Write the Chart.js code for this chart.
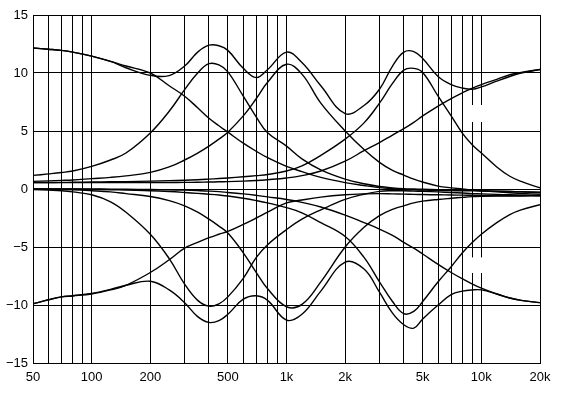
<!DOCTYPE html>
<html>
<head>
<meta charset="utf-8">
<script src="https://cdn.jsdelivr.net/npm/chart.js@4.4.1/dist/chart.umd.min.js"></script>
<style>
  html, body { margin: 0; padding: 0; background: #fff; }
  canvas { display: block; }
</style>
</head>
<body>
<canvas id="c" width="564" height="395"></canvas>
<script>
const FREQ = [50, 60, 70, 80, 100, 125, 150, 200, 250, 300, 350, 400, 450, 500, 600, 700, 800,
  1000, 1200, 1500, 2000, 2500, 3000, 3500, 4000, 4500, 5000, 6000, 7000, 8000, 9000, 10000,
  12000, 14000, 16000, 20000];

// Boost family (dB)
const BOOST_LOW_SHELF = [12.15, 12.05, 11.95, 11.8, 11.45, 11.0, 10.6, 10.0, 8.9, 8.0, 7.0, 6.1, 5.45, 4.9, 3.95, 3.25, 2.7,
  1.95, 1.5, 1.0, 0.55, 0.3, 0.12, 0.02, -0.04, -0.07, -0.09, -0.12, -0.14, -0.15, -0.16, -0.17, -0.2, -0.22, -0.24, -0.28];
const BOOST_BELL_400 = [1.17, 1.3, 1.42, 1.55, 1.95, 2.5, 3.1, 4.83, 6.7, 8.56, 10.0, 10.8, 10.7, 10.1, 8.0, 6.2, 4.85,
  3.7, 2.6, 1.65, 0.85, 0.45, 0.22, 0.1, 0.03, 0.0, -0.02, -0.05, -0.08, -0.1, -0.12, -0.14, -0.18, -0.22, -0.25, -0.3];
const BOOST_BELL_1K = [0.66, 0.7, 0.74, 0.78, 0.89, 1.0, 1.13, 1.43, 1.9, 2.5, 3.1, 3.7, 4.3, 4.9, 6.3, 7.8, 9.2,
  10.75, 9.9, 7.4, 5.0, 3.4, 2.3, 1.6, 1.2, 0.85, 0.6, 0.25, 0.1, 0.0, -0.1, -0.15, -0.25, -0.32, -0.38, -0.45];
const BOOST_BELL_4K = [0.55, 0.56, 0.57, 0.58, 0.6, 0.62, 0.64, 0.68, 0.72, 0.76, 0.8, 0.85, 0.9, 0.95, 1.05, 1.15, 1.25,
  1.55, 2.0, 2.9, 4.3, 5.7, 7.4, 9.1, 10.25, 10.4, 10.05, 8.0, 6.3, 4.8, 3.8, 3.1, 1.9, 1.1, 0.65, 0.1];
const BOOST_HIGH_SHELF = [0.55, 0.55, 0.55, 0.55, 0.55, 0.55, 0.55, 0.56, 0.56, 0.57, 0.58, 0.6, 0.62, 0.64, 0.68, 0.73, 0.8,
  0.95, 1.15, 1.55, 2.4, 3.3, 4.0, 4.65, 5.2, 5.75, 6.3, 7.15, 7.8, 8.3, 8.7, 9.0, 9.45, 9.85, 10.05, 10.3];
const BOOST_TOTAL = [12.15, 12.05, 11.95, 11.8, 11.45, 11.0, 10.45, 9.8, 9.78, 10.6, 11.8, 12.4, 12.35, 11.95, 10.4, 9.6, 10.3,
  11.8, 10.9, 8.9, 6.5, 7.2, 8.6, 10.6, 11.8, 11.85, 11.25, 9.7, 9.0, 8.7, 8.6, 8.8, 9.3, 9.7, 10.0, 10.3];

// Cut family (dB)
const CUT_LOW_SHELF = [-9.9, -9.55, -9.3, -9.22, -9.05, -8.7, -8.3, -7.2, -6.1, -5.1, -4.6, -4.2, -3.9, -3.65, -3.05, -2.5, -2.0,
  -1.2, -0.95, -0.7, -0.5, -0.42, -0.4, -0.42, -0.44, -0.46, -0.48, -0.5, -0.52, -0.53, -0.54, -0.55, -0.56, -0.57, -0.57, -0.58];
const CUT_BELL_400 = [-0.05, -0.1, -0.15, -0.25, -0.5, -1.1, -2.0, -3.9, -6.0, -8.2, -9.6, -10.1, -9.9, -9.3, -7.7, -5.9, -4.8,
  -3.5, -2.6, -1.8, -0.9, -0.45, -0.2, -0.15, -0.15, -0.18, -0.2, -0.25, -0.3, -0.35, -0.4, -0.42, -0.46, -0.5, -0.52, -0.55];
const CUT_BELL_1K = [-0.02, -0.03, -0.05, -0.07, -0.15, -0.25, -0.4, -0.65, -1.0, -1.45, -2.0, -2.6, -3.2, -3.8, -5.5, -7.2, -8.6,
  -10.15, -9.95, -8.0, -5.0, -3.3, -2.3, -1.75, -1.45, -1.2, -1.05, -0.9, -0.8, -0.72, -0.66, -0.63, -0.6, -0.6, -0.6, -0.58];
const CUT_BELL_4K = [0, 0, 0, 0, -0.03, -0.06, -0.1, -0.15, -0.22, -0.3, -0.38, -0.45, -0.52, -0.6, -0.8, -1.0, -1.2,
  -1.6, -2.05, -2.9, -4.1, -5.9, -8.0, -9.7, -10.75, -10.55, -9.7, -8.0, -6.7, -5.5, -4.6, -3.9, -2.9, -2.2, -1.8, -1.35];
const CUT_HIGH_SHELF = [0, 0, 0, 0, 0, -0.01, -0.02, -0.04, -0.07, -0.1, -0.14, -0.18, -0.23, -0.3, -0.42, -0.55, -0.68,
  -0.9, -1.15, -1.55, -2.25, -2.9, -3.45, -4.0, -4.6, -5.1, -5.6, -6.5, -7.2, -7.75, -8.2, -8.55, -9.05, -9.4, -9.6, -9.8];
const CUT_TOTAL = [-9.9, -9.55, -9.3, -9.2, -9.0, -8.65, -8.3, -7.95, -8.7, -9.8, -11.0, -11.5, -11.35, -10.8, -9.5, -9.2, -9.6,
  -11.3, -10.8, -8.8, -6.3, -6.9, -8.9, -10.7, -11.7, -12.0, -11.2, -10.0, -9.1, -8.8, -8.7, -8.7, -9.05, -9.4, -9.6, -9.8];

// Axis ticks
const X_GRID = [50, 60, 70, 80, 90, 100, 200, 300, 400, 500, 600, 700, 800, 900, 1000,
  2000, 3000, 4000, 5000, 6000, 7000, 8000, 9000, 10000, 20000];
const X_LABEL_VALUES = [50, 100, 200, 500, 1000, 2000, 5000, 10000, 20000];
const X_LABEL_TEXTS = ['50', '100', '200', '500', '1k', '2k', '5k', '10k', '20k'];
const Y_MIN = -15, Y_MAX = 15, Y_STEP = 5;

// Blank breaks in the 9k / 10k grid lines (dB ranges)
const GRID_BREAK_FREQS = [9000, 10000];
const GRID_BREAK_RANGES = [[5.78, 7.24], [-7.24, -5.9]];

const SERIES = [BOOST_LOW_SHELF, BOOST_BELL_400, BOOST_BELL_1K, BOOST_BELL_4K, BOOST_HIGH_SHELF, BOOST_TOTAL,
  CUT_LOW_SHELF, CUT_BELL_400, CUT_BELL_1K, CUT_BELL_4K, CUT_HIGH_SHELF, CUT_TOTAL];

Chart.defaults.font.family = "'Liberation Sans', Arial, Helvetica, sans-serif";
Chart.defaults.font.size = 13;
Chart.defaults.color = '#000';

const gridBreaks = {
  id: 'gridBreaks',
  beforeDatasetsDraw(chart) {
    const { ctx, scales: { x, y } } = chart;
    ctx.save();
    ctx.fillStyle = '#fff';
    GRID_BREAK_FREQS.forEach(f => {
      const px = Math.round(x.getPixelForValue(f));
      GRID_BREAK_RANGES.forEach(([lo, hi]) => {
        const top = y.getPixelForValue(hi), bot = y.getPixelForValue(lo);
        ctx.fillRect(px - 2, top, 4, bot - top);
      });
    });
    ctx.restore();
  }
};

new Chart(document.getElementById('c'), {
  type: 'line',
  data: {
    datasets: SERIES.map(arr => ({
      data: FREQ.map((f, i) => ({ x: f, y: arr[i] })),
      borderColor: '#000',
      borderWidth: 1.4,
      pointRadius: 0,
      fill: false,
      tension: 0.4
    }))
  },
  options: {
    responsive: false,
    animation: false,
    devicePixelRatio: 1,
    layout: { padding: { top: 15, right: 24, bottom: 0, left: 0 } },
    plugins: { legend: { display: false }, tooltip: { enabled: false } },
    scales: {
      x: {
        type: 'logarithmic',
        min: 50,
        max: 20000,
        afterBuildTicks: s => { s.ticks = X_GRID.map(v => ({ value: v })); },
        afterFit: s => { s.height = 32; },
        ticks: {
          autoSkip: false, maxRotation: 0, minRotation: 0, padding: 7, color: '#000',
          callback: v => { const k = X_LABEL_VALUES.indexOf(v); return k >= 0 ? X_LABEL_TEXTS[k] : ''; }
        },
        grid: { color: '#000', lineWidth: 1, drawTicks: false },
        border: { color: '#000', width: 1 }
      },
      y: {
        type: 'linear',
        min: Y_MIN,
        max: Y_MAX,
        afterFit: s => { s.width = 33; },
        ticks: {
          stepSize: Y_STEP, padding: 5, color: '#000',
          callback: v => v < 0 ? '\u2212' + Math.abs(v) : String(v)
        },
        grid: { color: '#000', lineWidth: 1, drawTicks: false },
        border: { color: '#000', width: 1 }
      }
    }
  },
  plugins: [gridBreaks]
});
</script>
</body>
</html>
